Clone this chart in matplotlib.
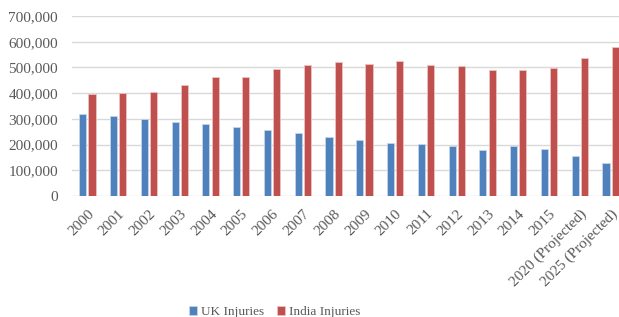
import numpy as np
import matplotlib
matplotlib.use('Agg')
import matplotlib.pyplot as plt

plt.rcParams['font.family'] = ['Liberation Serif', 'DejaVu Serif']

years = ['2000', '2001', '2002', '2003', '2004', '2005', '2006', '2007', '2008',
         '2009', '2010', '2011', '2012', '2013', '2014', '2015',
         '2020 (Projected)', '2025 (Projected)']
uk_injuries = [318000, 311000, 299000, 288000, 280000, 268000, 257000, 245000, 231000,
               219000, 207000, 201000, 196000, 180000, 193000, 184000, 156000, 128000]
india_injuries = [396000, 402000, 404000, 433000, 463000, 463000, 495000, 508000, 521000,
                  512000, 524000, 508000, 506000, 491000, 491000, 496000, 538000, 581000]

fig = plt.figure(figsize=(6.19, 3.17), dpi=100)
ax = fig.add_axes([72 / 619, 1 - 196 / 317, 554 / 619, 180 / 317])

x = np.arange(len(years))
w = 0.23
ax.bar(x - 0.15, uk_injuries, w, color='#4F81BD', edgecolor='#C5D5EA', linewidth=0.6,
       label='UK Injuries', zorder=3)
ax.bar(x + 0.15, india_injuries, w, color='#C0504D', edgecolor='#EBC4C3', linewidth=0.6,
       label='India Injuries', zorder=3)

ax.set_xlim(-0.5, len(years) - 0.5)
ax.set_ylim(0, 700000)
ax.set_yticks(np.arange(0, 700001, 100000))
ax.set_yticklabels([f'{v:,}' for v in range(0, 700001, 100000)])
ax.set_xticks(x)
ax.set_xticklabels(years, rotation=45, ha='right', rotation_mode='anchor')
ax.tick_params(axis='both', length=0, labelsize=11, colors='#595959')
ax.tick_params(axis='x', pad=8)
ax.tick_params(axis='y', pad=10)
ax.grid(axis='y', color='#D9D9D9', linewidth=1, zorder=0)
for s in ax.spines.values():
    s.set_visible(False)

fig.legend(loc='center', bbox_to_anchor=(0.444, 0.016), ncol=2, frameon=False,
           fontsize=9.5, labelcolor='#595959', handlelength=0.6, handleheight=0.7,
           handletextpad=0.3, columnspacing=1.0)

fig.savefig('out.png', dpi=100)
